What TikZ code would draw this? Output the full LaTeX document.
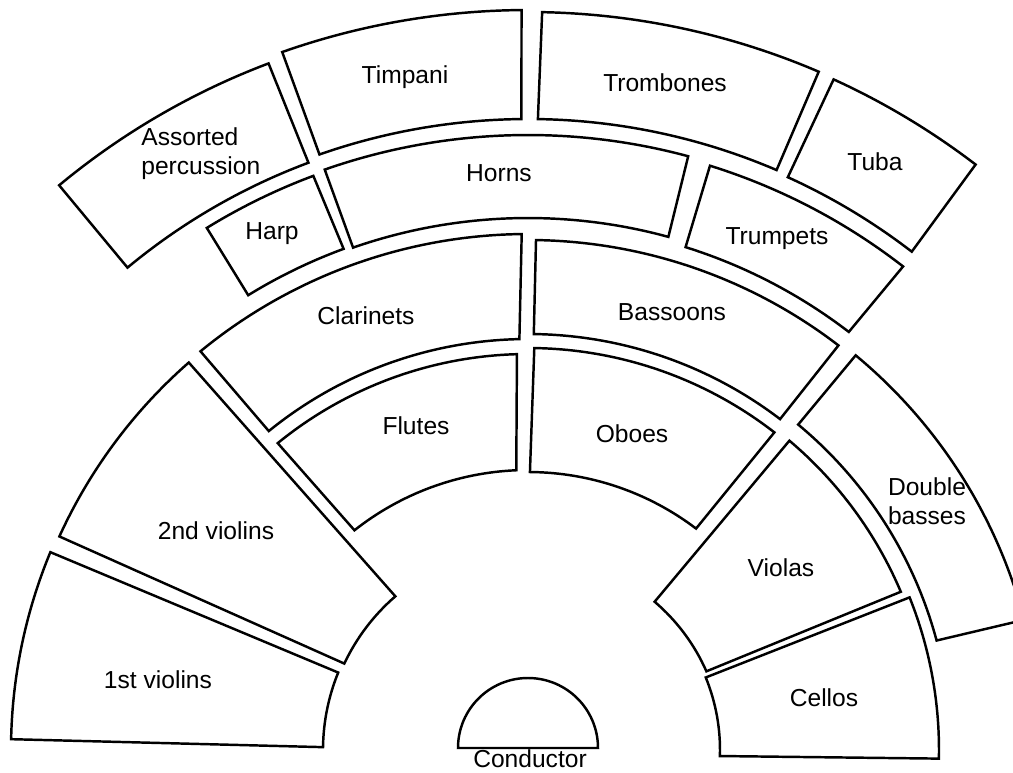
\documentclass[tikz,border=0pt]{standalone}
\usepackage{fontspec}
\setmainfont{Liberation Sans}
\usepackage{tikz}

\newcommand{\seatblock}[6]{%
  \draw[seat] (#3:#1) -- (#4:#2) arc[start angle=#4, end angle=#5, radius=#2]
    -- (#6:#1) arc[start angle=#6, end angle=#3, radius=#1] -- cycle;}

\begin{document}
\begin{tikzpicture}[x=0.02cm, y=0.02cm, every node/.style={font=\fontsize{14}{16.5}\selectfont},
    seat/.style={draw, line width=1.4pt, line join=miter},
    lbl/.style={align=center, inner sep=0pt}]
    \useasboundingbox (-528,-22) rectangle (485,750);
    \clip (-528,-22) rectangle (485,750);
    \seatblock{205}{517}{179.2}{178.8}{157.5}{157.8}
    \seatblock{203}{515}{154.8}{155.5}{131.2}{130.8}
    \seatblock{280}{396}{128.3}{129.2}{91.6}{92.4}
    \seatblock{278}{402}{89.6}{89.1}{52.2}{52.8}
    \seatblock{411}{516}{129.1}{129.4}{90.7}{91.2}
    \seatblock{416}{510}{89.2}{89.1}{52.5}{52.7}
    \seatblock{534}{613}{121.6}{121.6}{110.5}{110.2}
    \seatblock{532}{615}{109.2}{109.3}{74.9}{74.7}
    \seatblock{527}{612}{72.6}{72.7}{52.2}{52.5}
    \seatblock{627}{734}{129.7}{129.7}{110.7}{110.5}
    \seatblock{631}{740}{109.3}{109.4}{90.5}{90.6}
    \seatblock{631}{738}{89.1}{88.9}{66.8}{66.8}
    \seatblock{629}{737}{65.6}{65.5}{52.6}{52.4}
    \seatblock{423}{513}{50.3}{50.3}{14.7}{15.0}
    \seatblock{195}{405}{49.5}{49.8}{23.0}{23.8}
    \seatblock{192}{411}{22.2}{21.8}{-1.2}{-1.8}
    \draw[seat] (-70,2) arc[start angle=180, end angle=0, radius=70] -- cycle;

    \node[lbl, anchor=west, align=left] (perc) at (-387,596) {Assorted\\percussion};
    \node[lbl] (timp) at (-123,673) {Timpani};
    \node[lbl] (harp) at (-256,516) {Harp};
    \node[lbl] (horns) at (-29,577) {Horns};
    \node[lbl] (clar) at (-162,434) {Clarinets};
    \node[lbl] (tromb) at (137,667) {Trombones};
    \node[lbl] (tuba) at (347,588) {Tuba};
    \node[lbl] (trump) at (249,511) {Trumpets};
    \node[lbl] (bassn) at (144,438) {Bassoons};
    \node[lbl] (flutes) at (-112,324) {Flutes};
    \node[lbl] (oboes) at (104,316) {Oboes};
    \node[lbl] (vlntwo) at (-312,219) {2nd violins};
    \node[lbl] (vlnone) at (-370,70) {1st violins};
    \node[lbl] (dbass) at (399,249) {Double\\basses};
    \node[lbl] (violas) at (253,182) {Violas};
    \node[lbl] (cellos) at (296,52) {Cellos};
    \node[lbl] (cond) at (2,-9) {Conductor};
\end{tikzpicture}
\end{document}
